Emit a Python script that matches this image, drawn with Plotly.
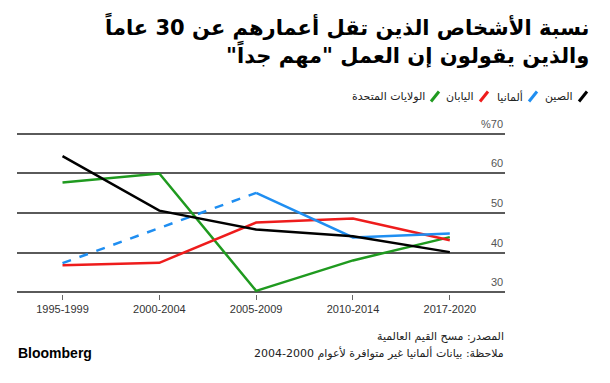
import plotly.graph_objects as go

categories = ["1995-1999", "2000-2004", "2005-2009", "2010-2014", "2017-2020"]
china = [64.4, 50.6, 45.8, 44.1, 40.1]
germany = [37.3, None, 55.1, 43.8, 44.8]
japan = [36.8, 37.4, 47.6, 48.6, 43.1]
usa = [57.7, 60.0, 30.3, 38.0, 43.9]
ytick_vals = [30, 40, 50, 60, 70]
ytick_text = ["30", "40", "50", "60", "%70"]

series_names = ["الصين", "ألمانيا", "اليابان", "الولايات المتحدة"]
colors = ["#000000", "#1f8ef1", "#ee1c1c", "#1f9a1f"]

W, H = 610, 383
L, R, T, B = 17, 105, 131.5, 89.3  # margins in px
pw, ph = W - L - R, H - T - B

def px(x):
    return (x - L) / pw

def py(y):
    return (H - B - y) / ph

fig = go.Figure()
xi = list(range(len(categories)))

fig.add_trace(go.Scatter(x=xi, y=usa, mode="lines", line=dict(color=colors[3], width=2.5),
                         cliponaxis=False, showlegend=False))
fig.add_trace(go.Scatter(x=xi, y=japan, mode="lines", line=dict(color=colors[2], width=2.5),
                         cliponaxis=False, showlegend=False))
# Germany dashed bridge over missing 2000-2004
gx = [i for i, v in enumerate(germany) if v is not None]
fig.add_trace(go.Scatter(x=[gx[0], gx[1]], y=[germany[gx[0]], germany[gx[1]]], mode="lines",
                         line=dict(color=colors[1], width=2.5, dash="dash"),
                         cliponaxis=False, showlegend=False))
fig.add_trace(go.Scatter(x=gx[1:], y=[germany[i] for i in gx[1:]], mode="lines",
                         line=dict(color=colors[1], width=2.5), cliponaxis=False, showlegend=False))
fig.add_trace(go.Scatter(x=xi, y=china, mode="lines", line=dict(color=colors[0], width=2.5),
                         cliponaxis=False, showlegend=False))

font_ar = "DejaVu Sans, Noto Sans, sans-serif"
RLM = "\u200f"

annotations = [
    dict(text="نسبة الأشخاص الذين تقل أعمارهم عن 30 عاماً" + RLM,
         x=px(591), y=py(25), xref="paper", yref="paper", xanchor="right", yanchor="middle",
         align="right", showarrow=False,
         font=dict(family="DejaVu Sans", size=21, color="#000000", weight="bold")),
    dict(text=RLM + "والذين يقولون إن العمل \"مهم جداً\"" + RLM,
         x=px(591), y=py(53), xref="paper", yref="paper", xanchor="right", yanchor="middle",
         align="right", showarrow=False,
         font=dict(family="DejaVu Sans", size=21, color="#000000", weight="bold")),
    dict(text="المصدر: مسح القيم العالمية",
         x=px(506), y=py(336), xref="paper", yref="paper", xanchor="right", yanchor="middle",
         align="right", showarrow=False, font=dict(family=font_ar, size=11, color="#222222")),
    dict(text="ملاحظة: بيانات ألمانيا غير متوافرة لأعوام 2000-2004",
         x=px(506), y=py(353), xref="paper", yref="paper", xanchor="right", yanchor="middle",
         align="right", showarrow=False, font=dict(family=font_ar, size=11, color="#222222")),
    dict(text="<b>Bloomberg</b>", x=px(16), y=py(353), xref="paper", yref="paper",
         xanchor="left", yanchor="middle", showarrow=False,
         font=dict(family="Liberation Sans, Arial", size=14, color="#000000")),
]
# y tick labels sitting above their gridlines at the right edge
for v, t in zip(ytick_vals, ytick_text):
    annotations.append(dict(text=t, x=1, y=v, xref="paper", yref="y", xanchor="right",
                            yanchor="middle", yshift=10, showarrow=False,
                            font=dict(family="Liberation Sans, Arial", size=11, color="#555555")))

shapes = []
legend_icon_x = [583, 533, 484, 435]
for name, col, ix in zip(series_names, colors, legend_icon_x):
    shapes.append(dict(type="line", xref="paper", yref="paper",
                       x0=px(ix - 4), y0=py(101), x1=px(ix + 4), y1=py(91),
                       line=dict(color=col, width=3)))
    annotations.append(dict(text=name, x=px(ix - 8), y=py(96), xref="paper", yref="paper",
                            xanchor="right", yanchor="middle", showarrow=False,
                            font=dict(family=font_ar, size=11, color="#222222")))

fig.update_layout(
    width=W, height=H, margin=dict(l=L, r=R, t=T, b=B),
    paper_bgcolor="white", plot_bgcolor="white",
    annotations=annotations, shapes=shapes,
    xaxis=dict(range=[-0.47, 4.57], tickvals=xi, ticktext=categories, showgrid=False,
               zeroline=False, ticks="outside", ticklen=5, tickcolor="#666666",
               tickfont=dict(family="Liberation Sans, Arial", size=11, color="#333333"),
               fixedrange=True),
    yaxis=dict(range=[29.5, 70.5], tickvals=ytick_vals, showticklabels=False,
               showgrid=True, gridcolor="#5a5a5a", gridwidth=1.5, zeroline=False,
               showline=False, fixedrange=True),
)
fig.write_html("out.html", config={"displayModeBar": False},
               post_script="document.body.style.margin='0';")
